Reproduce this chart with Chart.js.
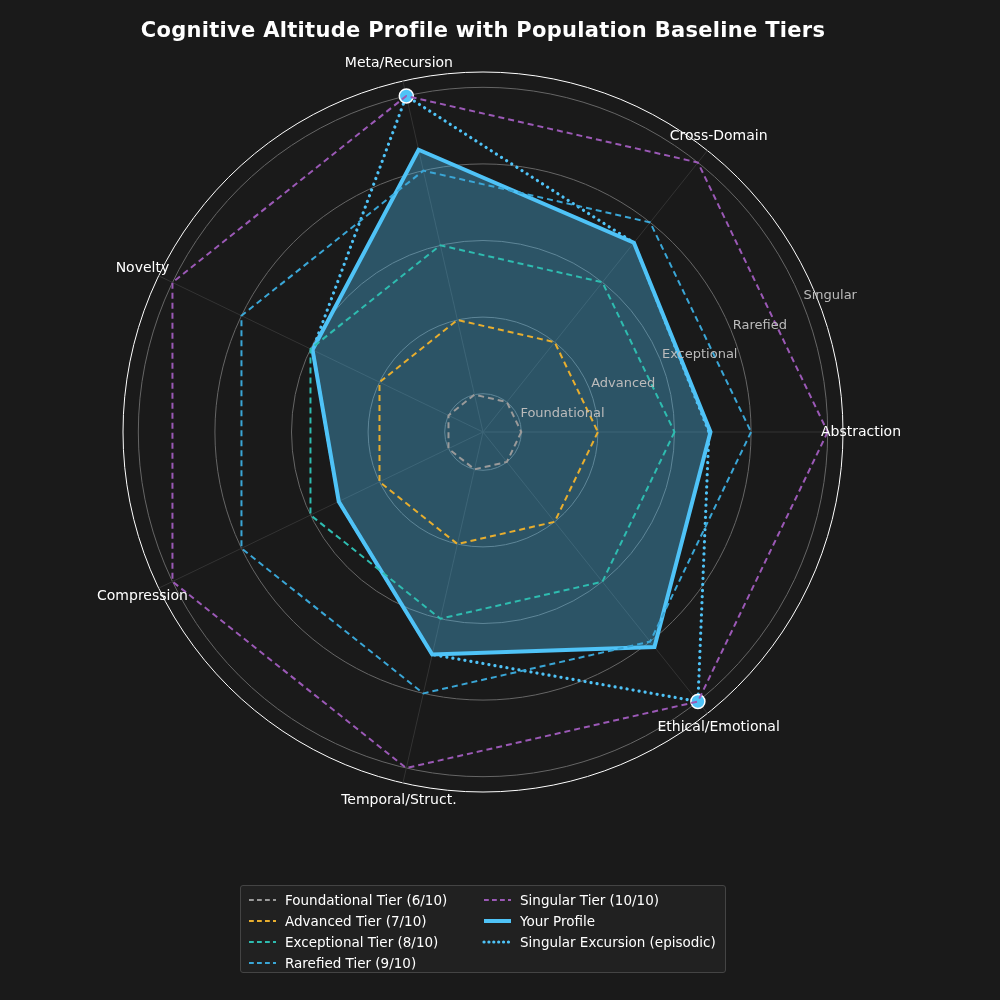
<!DOCTYPE html>
<html><head><meta charset="utf-8">
<script src="https://cdn.jsdelivr.net/npm/chart.js@4"></script>
<style>
body{margin:0;background:#1a1a1a;width:1000px;height:1000px;overflow:hidden;font-family:"DejaVu Sans",sans-serif;}
#wrap{position:absolute;left:0;top:0;width:1000px;height:870px;}
#title{position:absolute;top:18px;width:966px;text-align:center;color:#fff;font-weight:bold;font-size:21px;letter-spacing:0.3px}
#legend{position:absolute;left:240px;top:885px;width:486px;height:88px;border:1px solid #444;background:#212121;border-radius:3px;box-sizing:border-box;padding:4px 6px;display:grid;grid-template-columns:235px 240px;grid-auto-flow:column;grid-template-rows:repeat(4,20.8px);color:#fff;font-size:13.5px}
.li{display:flex;align-items:center}
.li canvas{margin-right:8px}
</style></head><body>
<div id="wrap"><canvas id="c" width="1000" height="870"></canvas></div>
<div id="title">Cognitive Altitude Profile with Population Baseline Tiers</div>
<div id="legend"></div>
<script>
// axes in clockwise order starting at right
const categories = ["Abstraction","Ethical/Emotional","Temporal/Struct.","Compression","Novelty","Meta/Recursion","Cross-Domain"];
const foundational = [6,6,6,6,6,6,6];
const advanced = [7,7,7,7,7,7,7];
const exceptional = [8,8,8,8,8,8,8];
const rarefied = [9,9,9,9,9,9,9];
const singular = [10,10,10,10,10,10,10];
const profile = [8.47,9.09,8.48,7.59,7.97,9.28,8.66];
const excursion = [8.45,10,8.48,7.59,7.97,10,8.66];
const tierValues = [6,7,8,9,10];
const tierLabels = ["Foundational","Advanced","Exceptional","Rarefied","Singular"];

const defs = [
 {label:"Foundational Tier (6/10)",data:foundational,color:"#9a9a9a",dash:[6,4],w:2},
 {label:"Advanced Tier (7/10)",data:advanced,color:"#e8ae2e",dash:[6,4],w:2},
 {label:"Exceptional Tier (8/10)",data:exceptional,color:"#2ebcb0",dash:[6,4],w:2},
 {label:"Rarefied Tier (9/10)",data:rarefied,color:"#3aa6d6",dash:[6,4],w:2},
 {label:"Singular Tier (10/10)",data:singular,color:"#9b59b6",dash:[6,4],w:2},
 {label:"Your Profile",data:profile,color:"#4fc3f7",dash:[],w:4,fill:true},
 {label:"Singular Excursion (episodic)",data:excursion,color:"#4fc3f7",dash:[0.1,6],w:3.2,pts:true}
];
const datasets = defs.map(d=>({
 label:d.label,data:d.data,borderColor:d.color,borderWidth:d.w,borderDash:d.dash,
 backgroundColor:d.fill?"rgba(79,195,247,0.35)":"transparent",fill:!!d.fill,
 pointRadius:d.pts?d.data.map(v=>v>=10?7:0):0,pointBackgroundColor:"#4fc3f7",pointBorderColor:"#fff",pointBorderWidth:1.5,
 borderCapStyle:d.pts?"round":"butt"
}));
const tickPlugin={id:"tl",afterDatasetsDraw(ch){
 const s=ch.scales.r,ctx=ch.ctx;ctx.save();ctx.font="13px 'DejaVu Sans'";ctx.fillStyle="#bbbbbb";ctx.textBaseline="middle";
 const a=-22.5*Math.PI/180;
 tierValues.forEach((v,i)=>{const d=s.getDistanceFromCenterForValue(v);ctx.fillText(tierLabels[i],s.xCenter+d*Math.cos(a)+2,s.yCenter+d*Math.sin(a)-4);});
 ctx.font="14px 'DejaVu Sans'";ctx.fillStyle="#ffffff";ctx.textAlign="center";
 const dl=s.getDistanceFromCenterForValue(10.2)*1.05;
 categories.forEach((c,i)=>{const p=s.getPointPosition(i,dl);ctx.fillText(c,p.x,p.y);});
 ctx.restore();}};
new Chart(document.getElementById("c"),{type:"radar",data:{labels:categories,datasets},
 options:{responsive:false,animation:false,layout:{padding:{top:72,bottom:78,left:0,right:34}},
 plugins:{legend:{display:false},title:{display:false},tooltip:{enabled:false}},
 elements:{line:{tension:0}},
 scales:{r:{min:5.5,max:10.2,startAngle:90,
  ticks:{display:false,stepSize:1},
  grid:{color:c=>c.tick.value>10.1?"#ffffff":(c.tick.value<5.9?"transparent":"#666666"),circular:true,lineWidth:1},
  angleLines:{color:"#333333"},
  pointLabels:{display:false}}}},
 plugins:[tickPlugin]});
const lg=document.getElementById("legend");
defs.forEach(d=>{const el=document.createElement("div");el.className="li";const cv=document.createElement("canvas");cv.width=30;cv.height=10;const x=cv.getContext("2d");x.strokeStyle=d.color;x.lineWidth=d.w;x.setLineDash(d.dash.length?d.dash.map(v=>v*0.8):[]);if(d.pts)x.lineCap="round";x.beginPath();x.moveTo(2,5);x.lineTo(29,5);x.stroke();el.appendChild(cv);el.appendChild(document.createTextNode(d.label));lg.appendChild(el);});
</script></body></html>
